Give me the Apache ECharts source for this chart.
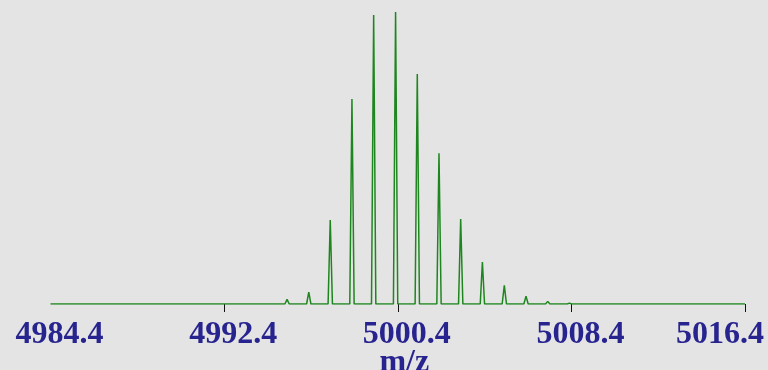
<!DOCTYPE html>
<html>
<head>
<meta charset="utf-8">
<script src="https://cdn.jsdelivr.net/npm/echarts@6/dist/echarts.min.js"></script>
<style>
html,body{margin:0;padding:0;background:#e4e4e4;}
#c{width:768px;height:370px;}
</style>
</head>
<body>
<div id="c"></div>
<script>
// isotope peak centres (m/z) and relative intensities (%)
const peakMz = [4995.30, 4996.30, 4997.29, 4998.29, 4999.29, 5000.30, 5001.30, 5002.30, 5003.30, 5004.30, 5005.31, 5006.31, 5007.31, 5008.31];
const peakIntensity = [1.6, 4.1, 28.8, 70.2, 99.0, 100.0, 78.8, 51.6, 29.1, 14.4, 6.4, 2.7, 0.9, 0.3];
const peakHalfWidth = 0.1;
const xRange = [4984.4, 5016.4];
const xTickLabels = [4984.4, 4992.4, 5000.4, 5008.4, 5016.4];
const xTickMarks = [4992.4, 5000.4, 5008.4, 5016.4];

const spectrum = [[xRange[0], 0]];
peakMz.forEach((m, i) => {
  spectrum.push([m - peakHalfWidth, 0]);
  spectrum.push([m, peakIntensity[i]]);
  spectrum.push([m + peakHalfWidth, 0]);
});
spectrum.push([xRange[1], 0]);

const font = '"Liberation Serif", "Times New Roman", serif';
const textColor = '#28248f';
const chart = echarts.init(document.getElementById('c'));
chart.setOption({
  backgroundColor: '#e4e4e4',
  animation: false,
  grid: {left: 50.5, right: 23, top: 12, bottom: 66, containLabel: false, outerBoundsMode: 'none'},
  xAxis: {
    type: 'value',
    min: xRange[0],
    max: xRange[1],
    name: 'm/z',
    nameLocation: 'middle',
    nameGap: 43,
    nameMoveOverlap: false,
    nameTextStyle: {fontFamily: font, fontWeight: 'bold', fontSize: 32, color: textColor, padding: [0, 0, 0, 13]},
    axisLine: {show: false},
    splitLine: {show: false},
    axisTick: {show: true, customValues: xTickMarks, length: 8, lineStyle: {color: '#111', width: 1}},
    axisLabel: {
      customValues: xTickLabels,
      margin: 15,
      formatter: function (v) {
        const s = Number(v).toFixed(1);
        return (Math.abs(v - xRange[1]) < 1e-6) ? '{last|' + s + '}' : '{n|' + s + '}';
      },
      rich: {
        n: {fontFamily: font, fontWeight: 'bold', fontSize: 32, color: textColor, padding: [0, 0, 0, 18]},
        last: {fontFamily: font, fontWeight: 'bold', fontSize: 32, color: textColor, padding: [0, 50, 0, 0]}
      }
    }
  },
  yAxis: {type: 'value', min: 0, max: 100, show: false},
  series: [{
    type: 'line',
    data: spectrum,
    showSymbol: false,
    symbol: 'none',
    lineStyle: {color: '#1e861e', width: 1.5},
    silent: true
  }]
});
</script>
</body>
</html>
